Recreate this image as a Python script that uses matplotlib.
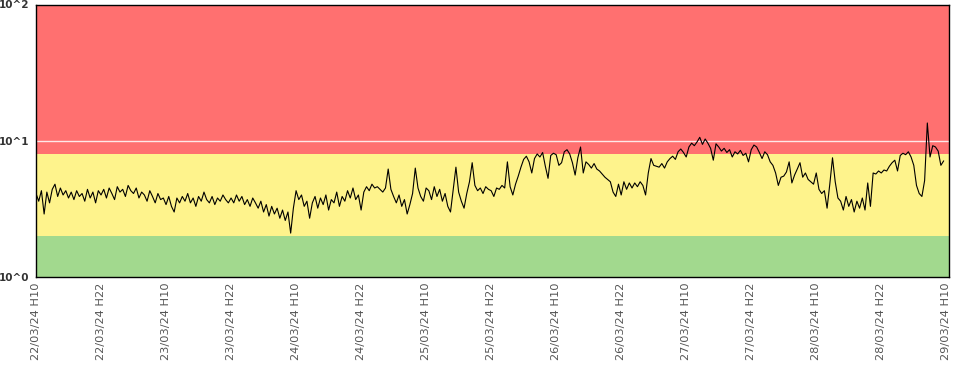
import matplotlib
matplotlib.use("Agg")
import matplotlib.pyplot as plt
import matplotlib.dates as mdates
import pandas as pd
import numpy as np

start_time = "2024-03-22 10:00"
step = "30min"
end_limit = "2024-03-29 10:30"

values = [
    4.1, 3.6, 4.3, 2.9, 4.2, 3.5, 4.4, 4.8, 3.9, 4.5, 4.0, 4.3, 3.8, 4.2, 3.7, 4.3, 3.9, 4.1, 3.6, 4.4, 3.8, 4.2, 3.5, 4.3,
    4.0, 4.4, 3.8, 4.5, 4.1, 3.7, 4.6, 4.2, 4.4, 3.9, 4.7, 4.3, 4.1, 4.5, 3.8, 4.2, 4.0, 3.6, 4.3, 3.9, 3.5, 4.1, 3.7, 3.8,
    3.4, 3.9, 3.3, 3.0, 3.8, 3.5, 3.9, 3.6, 4.1, 3.5, 3.8, 3.3, 3.9, 3.6, 4.2, 3.7, 3.5, 3.9, 3.4, 3.8, 3.6, 4.0, 3.7, 3.5,
    3.8, 3.5, 4.0, 3.6, 3.9, 3.4, 3.7, 3.3, 3.8, 3.5, 3.2, 3.6, 3.0, 3.4, 2.8, 3.3, 2.9, 3.2, 2.7, 3.1, 2.6, 3.0, 2.1, 3.2,
    4.3, 3.7, 4.0, 3.3, 3.6, 2.7, 3.5, 3.9, 3.2, 3.8, 3.4, 4.0, 3.1, 3.7, 3.5, 4.2, 3.3, 3.9, 3.6, 4.3, 3.8, 4.5, 3.7, 4.0,
    3.1, 4.2, 4.6, 4.3, 4.8, 4.5, 4.6, 4.4, 4.2, 4.5, 6.2, 4.4, 3.9, 3.5, 4.0, 3.3, 3.7, 2.9, 3.4, 4.1, 6.3, 4.5, 3.9, 3.6,
    4.5, 4.3, 3.7, 4.6, 3.9, 4.4, 3.6, 4.1, 3.3, 3.0, 4.4, 6.4, 4.2, 3.6, 3.2, 4.1, 5.0, 6.9, 4.7, 4.3, 4.5, 4.1, 4.6, 4.4,
    4.3, 3.9, 4.5, 4.4, 4.7, 4.5, 7.0, 4.6, 4.0, 4.8, 5.5, 6.4, 7.3, 7.7, 7.0, 5.8, 7.4, 8.0, 7.6, 8.2, 6.5, 5.3, 7.8, 8.1,
    7.9, 6.6, 6.9, 8.3, 8.6, 8.0, 6.9, 5.6, 7.5, 9.0, 5.8, 7.0, 6.7, 6.3, 6.8, 6.2, 6.0, 5.7, 5.4, 5.2, 5.0, 4.2, 3.9, 4.8,
    4.0, 5.0, 4.4, 4.9, 4.5, 4.9, 4.6, 5.0, 4.7, 4.0, 5.8, 7.4, 6.6, 6.5, 6.4, 6.8, 6.3, 7.0, 7.4, 7.7, 7.3, 8.3, 8.7, 8.2,
    7.6, 9.0, 9.6, 9.2, 9.8, 10.6, 9.4, 10.3, 9.6, 8.8, 7.2, 9.5, 9.0, 8.4, 8.8, 8.2, 8.6, 7.6, 8.3, 8.0, 8.5, 7.8, 8.1, 7.0,
    8.6, 9.3, 9.0, 8.2, 7.4, 8.3, 7.9, 7.0, 6.6, 5.8, 4.7, 5.4, 5.5, 5.9, 7.0, 4.9, 5.6, 6.2, 6.9, 5.4, 5.8, 5.2, 5.0, 4.8,
    5.8, 4.4, 4.1, 4.3, 3.2, 4.8, 7.5, 5.0, 3.8, 3.6, 3.1, 3.9, 3.3, 3.7, 3.0, 3.6, 3.2, 3.8, 3.1, 4.9, 3.3, 5.8, 5.7, 6.0,
    5.8, 6.1, 6.0, 6.5, 6.9, 7.2, 6.0, 7.8, 8.1, 7.9, 8.3, 7.6, 6.6, 4.7, 4.1, 3.9, 5.1, 13.5, 7.6, 9.2, 9.0, 8.4, 6.6, 7.1,
]

band_limits = [1, 2, 8, 100]
band_colors = ["#a2d98e", "#fef38c", "#ff7070"]
y_ticks = [1, 10, 100]
y_tick_labels = ["10^0", "10^1", "10^2"]

times = pd.date_range(start_time, periods=len(values), freq=step)

fig = plt.figure(figsize=(9.54, 3.72), dpi=100)
ax = fig.add_axes([36 / 954, 1 - 277 / 372, (949 - 36) / 954, (277 - 4.5) / 372])

for lo, hi, c in zip(band_limits[:-1], band_limits[1:], band_colors):
    ax.axhspan(lo, hi, color=c, lw=0, zorder=0)

ax.set_yscale("log")
ax.set_ylim(band_limits[0], band_limits[-1])
ax.set_xlim(pd.Timestamp(start_time), pd.Timestamp(end_limit))

ax.axhline(10, color="#ffe8e8", lw=1.0, zorder=1)

ax.plot(times, values, color="black", lw=0.8, zorder=3)

ax.set_yticks(y_ticks)
ax.set_yticklabels(y_tick_labels, fontsize=7.5, fontweight="bold", color="#333333")
ax.yaxis.set_minor_locator(matplotlib.ticker.NullLocator())
ax.tick_params(axis="y", length=0, pad=5)

ax.xaxis.set_major_locator(mdates.HourLocator(byhour=[10, 22]))
ax.xaxis.set_major_formatter(mdates.DateFormatter("%d/%m/%y H%H"))
ax.tick_params(axis="x", length=0, pad=4, labelsize=8.2, labelcolor="#555555", rotation=90)

for s in ax.spines.values():
    s.set_color("black")
    s.set_linewidth(1.0)

fig.savefig("out.png", dpi=100)
